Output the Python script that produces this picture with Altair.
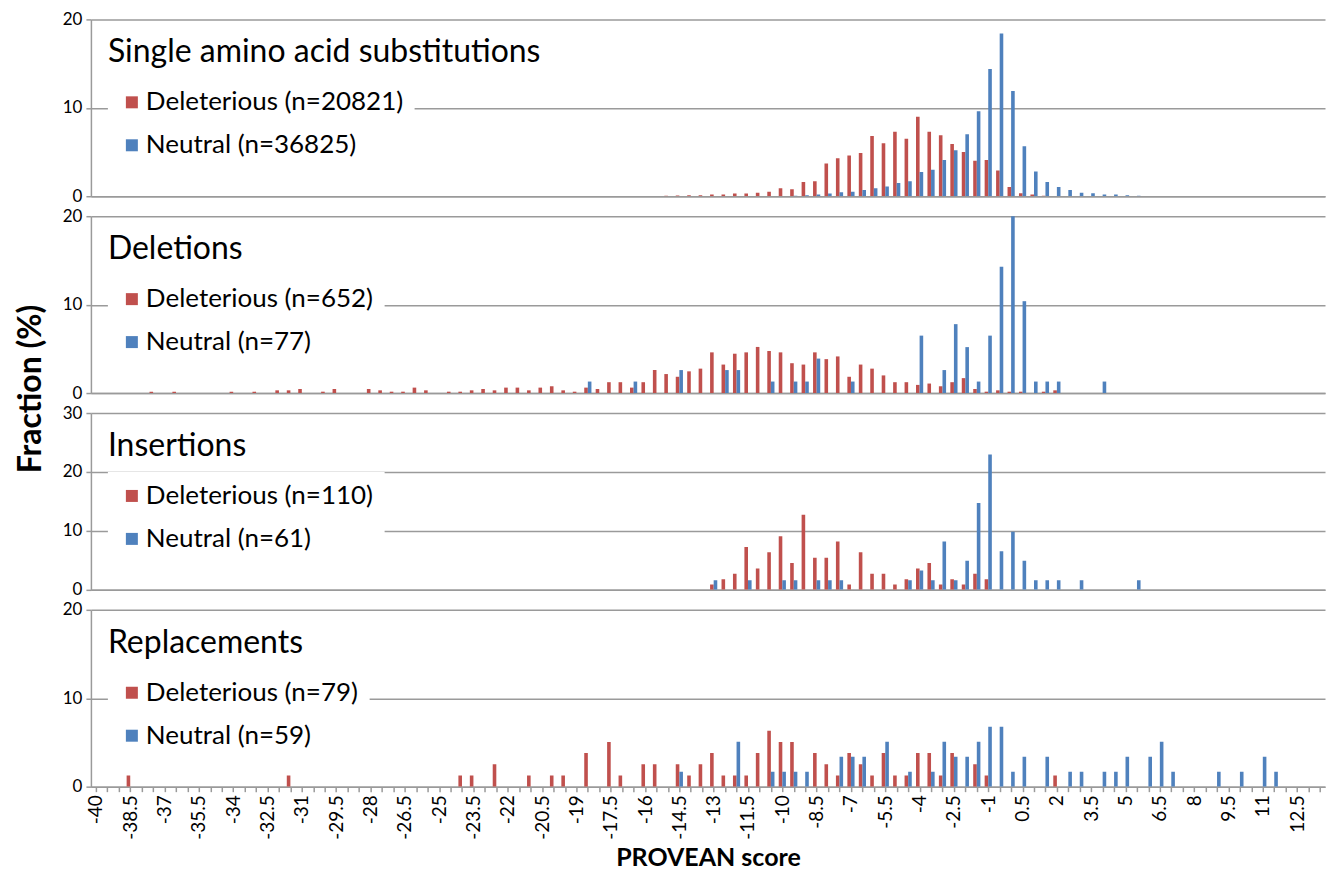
import altair as alt
import pandas as pd

RED = "#C0504D"
BLUE = "#4F81BD"
GRID = "#9A9A9A"
FONT = "Lato"

# ---------------------------------------------------------------------------
# Single amino acid substitutions: percent of variants per 0.5-wide score bin
sub_n = (20821, 36825)
sub_del_scores = [-15, -14.5, -14, -13.5, -13, -12.5, -12, -11.5, -11, -10.5,
                  -10, -9.5, -9, -8.5, -8, -7.5, -7, -6.5, -6, -5.5,
                  -5, -4.5, -4, -3.5, -3, -2.5, -2, -1.5, -1, -0.5,
                  0, 0.5, 1, 1.5]
sub_del_pct = [0.05, 0.08, 0.1, 0.12, 0.2, 0.2, 0.3, 0.3, 0.4, 0.5,
               0.9, 0.8, 1.6, 1.7, 3.7, 4.3, 4.6, 4.9, 6.8, 6.0,
               7.3, 6.5, 9.0, 7.3, 6.9, 5.9, 5.0, 4.0, 4.1, 2.9,
               1.05, 0.35, 0.2, 0.05]
sub_neu_scores = [-9.5, -9, -8.5, -8, -7.5, -7, -6.5, -6, -5.5, -5,
                  -4.5, -4, -3.5, -3, -2.5, -2, -1.5, -1, -0.5, 0,
                  0.5, 1, 1.5, 2, 2.5, 3, 3.5, 4, 4.5, 5, 5.5]
sub_neu_pct = [0.05, 0.1, 0.2, 0.3, 0.45, 0.5, 0.7, 0.9, 1.1, 1.5,
               1.7, 2.75, 3.0, 4.1, 5.2, 7.0, 9.6, 14.4, 18.4, 11.9,
               5.65, 2.8, 1.6, 1.05, 0.7, 0.4, 0.35, 0.2, 0.2, 0.1, 0.05]

# Deletions: variant counts per bin
del_n = (652, 77)
del_del_scores = [-37.5, -36.5, -34, -33, -32, -31.5, -31, -30, -29.5, -28,
                  -27.5, -27, -26.5, -26, -25.5, -24.5, -24, -23.5, -23, -22.5,
                  -22, -21.5, -21, -20.5, -20, -19.5, -19, -18.5, -18, -17.5,
                  -17, -16.5, -16, -15.5, -15, -14.5, -14, -13.5, -13, -12.5,
                  -12, -11.5, -11, -10.5, -10, -9.5, -9, -8.5, -8, -7.5,
                  -7, -6.5, -6, -5.5, -5, -4.5, -4, -3.5, -3, -2.5,
                  -2, -1.5, -1, -0.5, 0, 0.5, 1.5, 2]
del_del_counts = [1, 1, 1, 1, 2, 2, 3, 1, 3, 3,
                  2, 1, 1, 4, 2, 1, 1, 2, 3, 2,
                  4, 4, 2, 4, 5, 2, 1, 4, 3, 8,
                  8, 4, 8, 17, 14, 12, 16, 18, 30, 21,
                  29, 30, 34, 31, 30, 22, 21, 30, 25, 27,
                  12, 21, 18, 13, 8, 8, 6, 7, 5, 8,
                  11, 3, 1, 2, 1, 1, 1, 2]
del_neu_scores = [-18.5, -16.5, -14.5, -12.5, -12, -10.5, -9.5, -9, -8.5, -7,
                  -4, -3, -2.5, -2, -1.5, -1, -0.5, 0, 0.5, 1,
                  1.5, 2, 4]
del_neu_counts = [1, 1, 2, 2, 2, 1, 1, 1, 3, 1,
                  5, 2, 6, 4, 1, 5, 11, 16, 8, 1,
                  1, 1, 1]

# Insertions: variant counts per bin
ins_n = (110, 61)
ins_del_scores = [-13, -12.5, -12, -11.5, -11, -10.5, -10, -9.5, -9, -8.5,
                  -8, -7.5, -7, -6.5, -6, -5.5, -5, -4.5, -4, -3.5,
                  -3, -2.5, -2, -1.5, -1]
ins_del_counts = [1, 2, 3, 8, 4, 7, 10, 5, 14, 6,
                  6, 9, 1, 7, 3, 3, 1, 2, 4, 5,
                  1, 2, 1, 3, 2]
ins_neu_scores = [-13, -11.5, -10, -9.5, -8.5, -8, -7.5, -4.5, -4, -3.5,
                  -3, -2.5, -2, -1.5, -1, -0.5, 0, 0.5, 1, 1.5,
                  2, 3, 5.5]
ins_neu_counts = [1, 1, 1, 1, 1, 1, 1, 1, 2, 1,
                  5, 1, 3, 9, 14, 4, 6, 3, 1, 1,
                  1, 1, 1]

# Replacements: variant counts per bin
rep_n = (79, 59)
rep_del_scores = [-38.5, -31.5, -24, -23.5, -22.5, -21, -20, -19.5, -18.5, -17.5,
                  -17, -16, -15.5, -14.5, -14, -13.5, -13, -12.5, -12, -11.5,
                  -11, -10.5, -10, -9.5, -8.5, -8, -7.5, -7, -6.5, -6,
                  -5.5, -5, -4.5, -4, -3.5, -3, -2.5, -1.5, -1, 2]
rep_del_counts = [1, 1, 1, 1, 2, 1, 1, 1, 3, 4,
                  1, 2, 2, 2, 1, 2, 3, 1, 1, 1,
                  3, 5, 4, 4, 3, 2, 1, 3, 2, 1,
                  3, 1, 1, 3, 3, 1, 3, 2, 1, 1]
rep_neu_scores = [-14.5, -12, -10.5, -10, -9.5, -9, -7.5, -7, -6.5, -5.5,
                  -4.5, -3.5, -3, -2.5, -2, -1.5, -1, -0.5, 0, 0.5,
                  1.5, 2.5, 3, 4, 4.5, 5, 6, 6.5, 7, 9,
                  10, 11, 11.5]
rep_neu_counts = [1, 3, 1, 1, 1, 1, 2, 2, 2, 3,
                  1, 1, 3, 2, 2, 3, 4, 4, 1, 2,
                  2, 1, 1, 1, 1, 2, 2, 3, 1, 1,
                  1, 2, 1]

# ---------------------------------------------------------------------------
X_MIN, X_MAX = -40.0, 13.5
STEP = 11.545                      # pixels per 0.5 score bin
PLOT_W = round((X_MAX - X_MIN) * 2 * STEP, 1)
PLOT_H = 177
TICKS = [X_MIN + 0.5 * i for i in range(int((X_MAX - X_MIN) * 2) + 1)]
LABEL_EXPR = ("(round((datum.value + 40) * 2) % 3 == 0 && datum.value <= 12.5)"
              " ? ('' + datum.value) : ''")


def to_pct(counts, n):
    return [100.0 * c / n for c in counts]


def series_frame(scores, values, label):
    return pd.DataFrame({"score": scores, "pct": values, "series": label})


def panel(title, del_scores, del_vals, neu_scores, neu_vals, n_pair, ymax,
          bottom=False, extra=()):
    del_label = f"Deleterious (n={n_pair[0]})"
    neu_label = f"Neutral (n={n_pair[1]})"

    if bottom:
        x_axis = alt.Axis(values=TICKS, labelExpr=LABEL_EXPR, labelAngle=270,
                          labelAlign="right", labelBaseline="middle",
                          labelFontSize=19, labelPadding=3, labelOverlap=False,
                          labelFlush=False, tickSize=5, grid=False,
                          title="PROVEAN score", titleFontSize=25,
                          titleFontWeight="bold", titlePadding=6)
    else:
        x_axis = alt.Axis(labels=False, ticks=False, grid=False, title=None)

    x = alt.X("score:Q", axis=x_axis,
              scale=alt.Scale(domain=[X_MIN, X_MAX], nice=False, zero=False))
    y = alt.Y("pct:Q", title=None,
              scale=alt.Scale(domain=[0, ymax], nice=False),
              axis=alt.Axis(values=list(range(0, ymax + 1, 10)), grid=True,
                            tickSize=5, labelFontSize=17, labelPadding=4,
                            title=None))
    color = alt.Color(
        "series:N",
        scale=alt.Scale(domain=[del_label, neu_label], range=[RED, BLUE]),
        legend=alt.Legend(orient="none", legendX=17, legendY=59, title=None,
                          fillColor="white", padding=11, symbolType="square",
                          symbolSize=144, symbolStrokeWidth=0,
                          labelFontSize=26, labelFont=FONT, labelColor="black",
                          labelLimit=400, labelOffset=1, rowPadding=17,
                          zindex=1),
    )

    red = alt.Chart(series_frame(del_scores, del_vals, del_label)).mark_bar(
        width=3.6, xOffset=-1.8, clip=True).encode(x=x, y=y, color=color)
    blue = alt.Chart(series_frame(neu_scores, neu_vals, neu_label)).mark_bar(
        width=3.6, xOffset=1.8, clip=True).encode(x=x, y=y, color=color)
    heading = alt.Chart(pd.DataFrame({"t": [title]})).mark_text(
        align="left", baseline="alphabetic", fontSize=32, font=FONT,
        color="black").encode(x=alt.value(17), y=alt.value(43), text="t:N")

    return alt.layer(red, blue, heading, *extra).properties(
        width=PLOT_W, height=PLOT_H)


y_title = alt.Chart(pd.DataFrame({"t": ["Fraction (%)"]})).mark_text(
    angle=270, align="center", baseline="middle", fontSize=32,
    fontWeight="bold", font=FONT, color="black").encode(
    x=alt.value(-59.7), y=alt.value(173), text="t:N")

p1 = panel("Single amino acid substitutions", sub_del_scores, sub_del_pct,
           sub_neu_scores, sub_neu_pct, sub_n, 20)
p2 = panel("Deletions", del_del_scores, to_pct(del_del_counts, del_n[0]),
           del_neu_scores, to_pct(del_neu_counts, del_n[1]), del_n, 20,
           extra=(y_title,))
p3 = panel("Insertions", ins_del_scores, to_pct(ins_del_counts, ins_n[0]),
           ins_neu_scores, to_pct(ins_neu_counts, ins_n[1]), ins_n, 30)
p4 = panel("Replacements", rep_del_scores, to_pct(rep_del_counts, rep_n[0]),
           rep_neu_scores, to_pct(rep_neu_counts, rep_n[1]), rep_n, 20,
           bottom=True)

chart = (
    alt.vconcat(p1, p2, p3, p4, spacing=20, bounds="flush")
    .resolve_scale(color="independent", y="independent")
    .resolve_legend(color="independent")
    .properties(padding={"left": 15, "top": 10, "right": 0, "bottom": 0},
                background="white")
    .configure_view(stroke=None)
    .configure_axis(gridColor=GRID, gridWidth=1.5, domainColor=GRID,
                    domainWidth=1.5, tickColor=GRID, tickWidth=1.5,
                    labelColor="black", titleColor="black", labelFont=FONT,
                    titleFont=FONT)
    .configure_text(font=FONT)
)

chart.save("out.html", embed_options={"renderer": "svg", "actions": False})
